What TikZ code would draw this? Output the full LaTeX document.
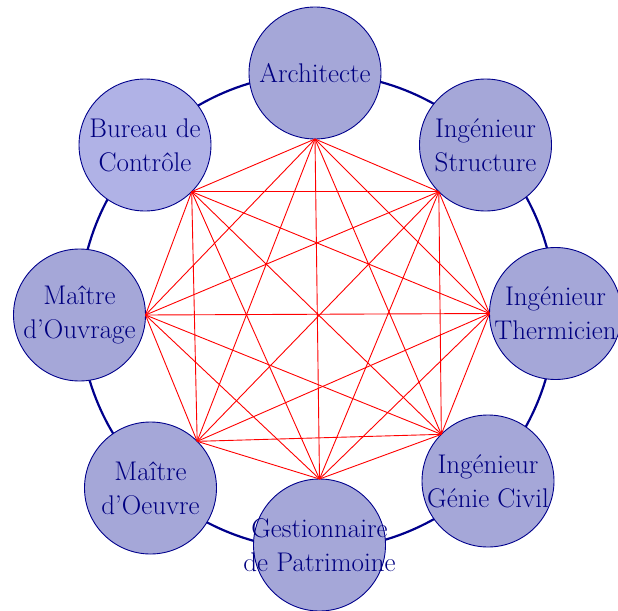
\documentclass[tikz,border=0pt]{standalone}
\usepackage{fontspec}
\definecolor{nodefill}{RGB}{165,167,216}
\definecolor{nodefilllight}{RGB}{176,178,230}
\definecolor{navytext}{RGB}{0,0,128}
\definecolor{navyline}{RGB}{0,0,140}
\newcommand{\zw}[1]{\makebox[0pt]{#1}}
\tikzset{
  actor/.style={circle, draw=navyline, line width=0.9pt, fill=nodefill, text=navytext,
    minimum size=132pt, inner sep=0pt, outer sep=0pt, align=center,
    font=\fontsize{27}{34}\selectfont},
  link/.style={red, line width=0.9pt},
  ring/.style={navyline, line width=2.2pt}
}
\begin{document}
\begin{tikzpicture}[x=1pt,y=-1pt]
\useasboundingbox (0,0) rectangle (618,610);
\coordinate (C) at (317.5,311.5);
\draw[ring] (C) circle[radius=238];
\node[actor] (A) at (315,73) {\zw{Architecte}};
\node[actor] (S) at (485.5,145) {\zw{Ingénieur}\\\zw{Structure}};
\node[actor] (T) at (555.5,313.5) {\zw{Ingénieur}\\\zw{Thermicien}};
\node[actor] (G) at (488,481) {\zw{Ingénieur}\\\zw{Génie Civil}};
\node[actor] (P) at (319.5,545) {\zw{Gestionnaire}\\\zw{de Patrimoine}};
\node[actor] (O) at (150.5,488) {\zw{Maître}\\\zw{d’Oeuvre}};
\node[actor] (V) at (79.5,315) {\zw{Maître}\\\zw{d’Ouvrage}};
\node[actor, fill=nodefilllight] (B) at (145,145) {\zw{Bureau de}\\\zw{Contrôle}};
\coordinate (a) at (A.-90);
\coordinate (s) at (S.-135);
\coordinate (t) at (T.180);
\coordinate (g) at (G.135);
\coordinate (p) at (P.90);
\coordinate (o) at (O.45);
\coordinate (v) at (V.0);
\coordinate (b) at (B.-45);
\foreach \u/\w in {a/s,a/t,a/g,a/p,a/o,a/v,a/b,s/t,s/g,s/p,s/o,s/v,s/b,t/g,t/p,t/o,t/v,t/b,g/p,g/o,g/v,g/b,p/o,p/v,p/b,o/v,o/b,v/b}
  \draw[link] (\u) -- (\w);
\end{tikzpicture}
\end{document}
